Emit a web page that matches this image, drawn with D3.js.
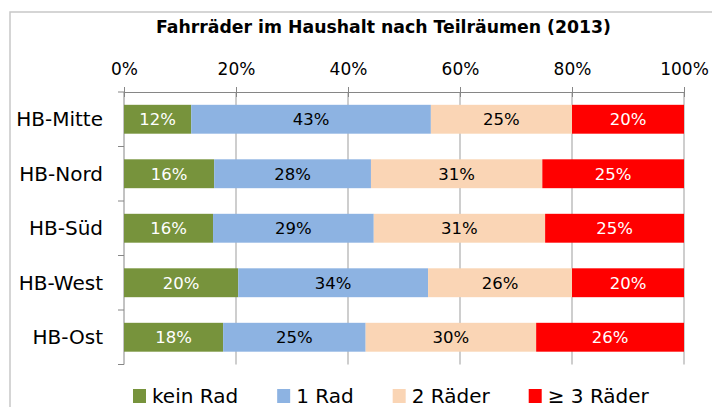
<!DOCTYPE html>
<html>
<head>
<meta charset="utf-8">
<script src="https://cdn.jsdelivr.net/npm/d3@7"></script>
<style>
  body { margin: 0; background: #fff; }
  text { font-family: "DejaVu Sans", sans-serif; }
</style>
</head>
<body>
<div id="chart"></div>
<script>
// Data (shares in percent)
const regions = ["HB-Mitte", "HB-Nord", "HB-Süd", "HB-West", "HB-Ost"];
const keinRad = [12.0, 16.1, 15.9, 20.4, 17.7];
const einRad = [42.8, 28.0, 28.7, 33.9, 25.45];
const zweiRaeder = [25.2, 30.6, 30.6, 25.7, 30.45];
const dreiRaeder = [20.0, 25.3, 24.8, 20.0, 26.4];
const seriesNames = ["kein Rad", "1 Rad", "2 Räder", "≥ 3 Räder"];
const xTicks = [0, 20, 40, 60, 80, 100];

const width = 712, height = 407;

// Colors
const seriesColors = ["#77933C", "#8DB3E2", "#FAD5B5", "#FF0000"];
const labelColors = ["#ffffff", "#000000", "#000000", "#ffffff"];
const gridColor = "#BEBEBE";
const axisColor = "#868686";

// table for the stack
const rows = regions.map(function (r, i) {
    return { region: r, "kein Rad": keinRad[i], "1 Rad": einRad[i], "2 Räder": zweiRaeder[i], "≥ 3 Räder": dreiRaeder[i] };
});

const svg = d3.select("#chart").append("svg")
    .attr("width", width)
    .attr("height", height);

// Outer chart frame
svg.append("rect")
    .attr("x", 10).attr("y", 12)
    .attr("width", 720).attr("height", 420)
    .attr("fill", "#fff")
    .attr("stroke", "#C8C8C8")
    .attr("stroke-width", 1.5);

// Title
svg.append("text")
    .attr("x", 383.5).attr("y", 33)
    .attr("text-anchor", "middle")
    .style("font-weight", "bold")
    .style("font-size", "17.3px")
    .text("Fahrräder im Haushalt nach Teilräumen (2013)");

const x = d3.scaleLinear().domain([0, 100]).range([124, 684]);
const y = d3.scaleBand().domain(regions).range([92, 364.5])
    .paddingInner(0.47).paddingOuter(0.235);

// Gridlines
svg.append("g")
    .selectAll("line")
    .data(xTicks.slice(1))
    .enter().append("line")
    .attr("x1", function (d) { return x(d); })
    .attr("x2", function (d) { return x(d); })
    .attr("y1", 92)
    .attr("y2", 364.5)
    .attr("stroke", gridColor)
    .attr("stroke-width", 1.5);

// Top axis
const xAxis = svg.append("g")
    .attr("transform", "translate(0,92)")
    .call(d3.axisTop(x).tickValues(xTicks).tickFormat(function (d) { return d + "%"; })
        .tickSizeInner(5).tickSizeOuter(0).tickPadding(12));
xAxis.select(".domain").attr("stroke", axisColor);
xAxis.selectAll(".tick line").attr("stroke", axisColor).attr("y2", -5).attr("y1", 5);
xAxis.selectAll(".tick text")
    .style("font-size", "17px")
    .attr("fill", "#000");

// Left axis with ticks between categories
const yAxis = svg.append("g").attr("transform", "translate(124,0)");
yAxis.append("line")
    .attr("y1", 92).attr("y2", 364.5)
    .attr("stroke", axisColor);
const bounds = d3.range(regions.length + 1).map(function (i) {
    return 92 + i * y.step();
});
yAxis.selectAll(".btick")
    .data(bounds)
    .enter().append("line")
    .attr("x1", -6).attr("x2", 0)
    .attr("y1", function (d) { return d; })
    .attr("y2", function (d) { return d; })
    .attr("stroke", axisColor);
yAxis.selectAll(".cat")
    .data(regions)
    .enter().append("text")
    .attr("x", -21)
    .attr("y", function (d) { return y(d) + y.bandwidth() / 2; })
    .attr("dy", "0.36em")
    .attr("text-anchor", "end")
    .style("font-size", "20px")
    .text(function (d) { return d; });

// Bars
const stack = d3.stack().keys(seriesNames)(rows);
const layer = svg.append("g")
    .selectAll("g")
    .data(stack)
    .enter().append("g")
    .attr("fill", function (d, i) { return seriesColors[i]; });

layer.selectAll("rect")
    .data(function (d) { return d; })
    .enter().append("rect")
    .attr("x", function (d) { return x(d[0]); })
    .attr("width", function (d) { return x(d[1]) - x(d[0]); })
    .attr("y", function (d) { return y(d.data.region); })
    .attr("height", y.bandwidth());

layer.selectAll("text")
    .data(function (d, i) { return d.map(function (p) { p.si = i; return p; }); })
    .enter().append("text")
    .attr("x", function (d) { return (x(d[0]) + x(d[1])) / 2; })
    .attr("y", function (d) { return y(d.data.region) + y.bandwidth() / 2; })
    .attr("dy", "0.36em")
    .attr("text-anchor", "middle")
    .attr("fill", function (d) { return labelColors[d.si]; })
    .style("font-size", "16.5px")
    .text(function (d) { return Math.round(d[1] - d[0]) + "%"; });

// Legend
const legend = svg.append("g").attr("transform", "translate(133,389)");
let lx = 0;
seriesNames.forEach(function (name, i) {
    const item = legend.append("g").attr("transform", "translate(" + lx + ",0)");
    item.append("rect")
        .attr("width", 13).attr("height", 14)
        .attr("fill", seriesColors[i]);
    const t = item.append("text")
        .attr("x", 19).attr("y", 7)
        .attr("dy", "0.36em")
        .style("font-size", "20px")
        .text(name);
    lx += 19 + t.node().getComputedTextLength() + 39;
});
</script>
</body>
</html>
